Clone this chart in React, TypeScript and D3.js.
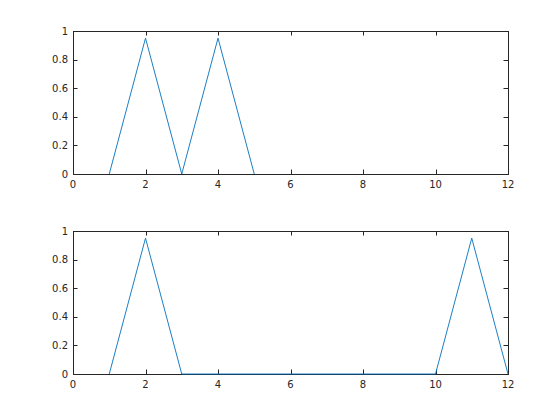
import React, { useEffect, useRef } from "react";
import * as d3 from "d3";

// top panel
const topX = [1, 2, 3, 4, 5];
const topY = [0, 0.95, 0, 0.95, 0];
// bottom panel
const bottomX = [1, 2, 3, 10, 11, 12];
const bottomY = [0, 0.95, 0, 0, 0.95, 0];

const xTicks = [0, 2, 4, 6, 8, 10, 12];
const yTicks = [0, 0.2, 0.4, 0.6, 0.8, 1];

const panels = [
  { xs: topX, ys: topY, top: 31 },
  { xs: bottomX, ys: bottomY, top: 231 },
];

export default function App() {
  const ref = useRef<SVGSVGElement | null>(null);

  useEffect(() => {
    const width = 560;
    const height = 420;
    const left = 73;
    const right = 508;
    const panelH = 143;
    const axisColor = "#262626";
    const tickLen = 4.5;

    const svg = d3.select(ref.current);
    svg.selectAll("*").remove();
    svg.attr("width", width).attr("height", height);

    svg.append("rect").attr("width", width).attr("height", height).attr("fill", "#fff");

    panels.forEach(p => {
      const x = d3.scaleLinear().domain([0, 12]).range([left, right]);
      const y = d3.scaleLinear().domain([0, 1]).range([p.top + panelH, p.top]);

      const g = svg.append("g");

      // plot area
      g.append("rect")
        .attr("x", left)
        .attr("y", p.top)
        .attr("width", right - left)
        .attr("height", panelH)
        .attr("fill", "#fff");

      const pts: [number, number][] = p.xs.map((v, i) => [v, p.ys[i]]);
      const line = d3.line<[number, number]>()
        .x(d => x(d[0]))
        .y(d => y(d[1]));

      // ticks inside, all four sides
      xTicks.forEach(t => {
        const px = Math.round(x(t)) + 0.5;
        g.append("line")
          .attr("x1", px).attr("x2", px)
          .attr("y1", y(0)).attr("y2", y(0) - tickLen)
          .attr("stroke", axisColor);
        g.append("line")
          .attr("x1", px).attr("x2", px)
          .attr("y1", y(1)).attr("y2", y(1) + tickLen)
          .attr("stroke", axisColor);
        g.append("text")
          .attr("x", x(t))
          .attr("y", y(0) + 14)
          .attr("text-anchor", "middle")
          .attr("font-family", "DejaVu Sans, sans-serif")
          .attr("font-size", 10)
          .attr("fill", axisColor)
          .text(t);
      });

      yTicks.forEach(t => {
        const py = Math.round(y(t)) + 0.5;
        g.append("line")
          .attr("x1", left).attr("x2", left + tickLen)
          .attr("y1", py).attr("y2", py)
          .attr("stroke", axisColor);
        g.append("line")
          .attr("x1", right).attr("x2", right - tickLen)
          .attr("y1", py).attr("y2", py)
          .attr("stroke", axisColor);
        g.append("text")
          .attr("x", left - 5)
          .attr("y", y(t))
          .attr("dy", "0.35em")
          .attr("text-anchor", "end")
          .attr("font-family", "DejaVu Sans, sans-serif")
          .attr("font-size", 10)
          .attr("fill", axisColor)
          .text(t);
      });

      // box
      g.append("rect")
        .attr("x", left + 0.5)
        .attr("y", p.top + 0.5)
        .attr("width", right - left)
        .attr("height", panelH)
        .attr("fill", "none")
        .attr("stroke", axisColor)
        .attr("stroke-width", 1);

      g.append("path")
        .datum(pts)
        .attr("d", line)
        .attr("fill", "none")
        .attr("stroke", "#0072BD")
        .attr("stroke-width", 0.9);
    });
  }, []);

  return (
    <div style={{ position: "fixed", left: 0, top: 0 }}>
      <svg ref={ref} style={{ display: "block" }} />
    </div>
  );
}
